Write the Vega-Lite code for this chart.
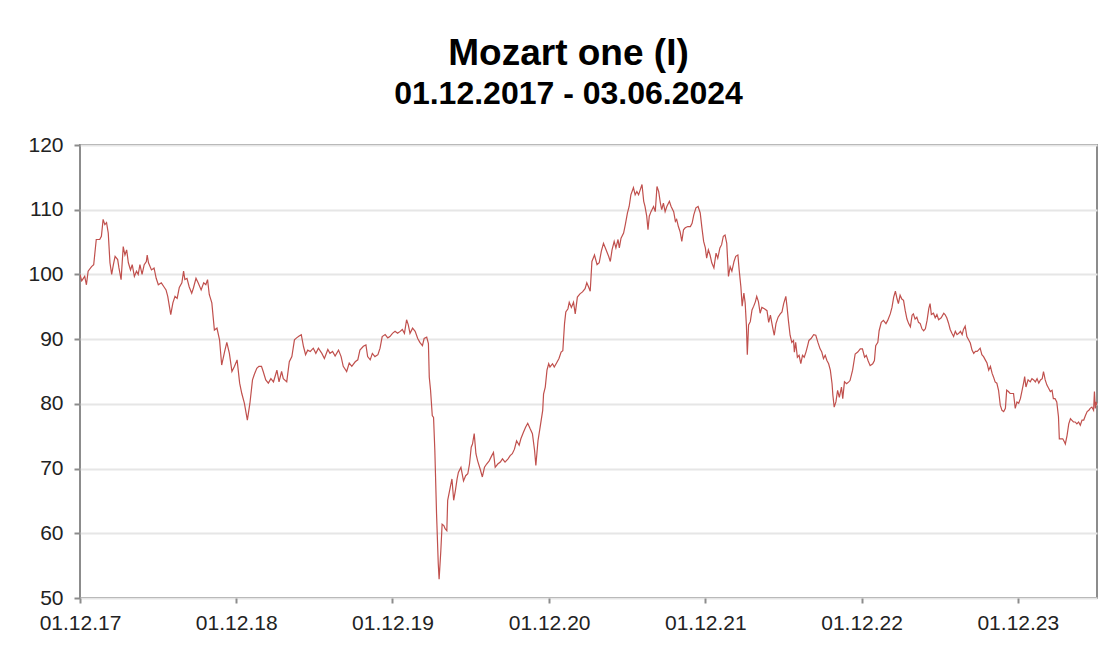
{
  "$schema": "https://vega.github.io/schema/vega-lite/v6.json",
  "width": 1017,
  "height": 453,
  "autosize": {"type": "none"},
  "padding": {"left": 80, "top": 145, "right": 20, "bottom": 48},
  "background": "white",
  "title": {
    "text": "Mozart one (I)",
    "subtitle": "01.12.2017 - 03.06.2024",
    "font": "Liberation Sans",
    "subtitleFont": "Liberation Sans",
    "fontSize": 37,
    "subtitleFontSize": 32,
    "fontWeight": "bold",
    "subtitleFontWeight": "bold",
    "color": "#000000",
    "subtitleColor": "#000000",
    "anchor": "middle",
    "dx": -20,
    "offset": 23,
    "subtitlePadding": 6
  },
  "data": {
    "values": [
      {"d":"2017-12-01","v":100},{"d":"2017-12-05","v":99.0},{"d":"2017-12-12","v":99.7},{"d":"2017-12-16","v":98.4},{"d":"2017-12-20","v":100.5},{"d":"2017-12-28","v":101.2},
      {"d":"2018-01-02","v":101.5},{"d":"2018-01-08","v":105.4},{"d":"2018-01-16","v":105.4},{"d":"2018-01-20","v":105.9},{"d":"2018-01-24","v":108.5},{"d":"2018-01-28","v":107.7},
      {"d":"2018-02-01","v":108},{"d":"2018-02-05","v":106.4},{"d":"2018-02-09","v":101.8},{"d":"2018-02-13","v":100},{"d":"2018-02-17","v":101.5},{"d":"2018-02-21","v":102.8},{"d":"2018-02-27","v":102.3},
      {"d":"2018-03-02","v":101},{"d":"2018-03-07","v":99.2},{"d":"2018-03-12","v":104.3},{"d":"2018-03-16","v":103},{"d":"2018-03-20","v":103.8},{"d":"2018-03-24","v":101.8},{"d":"2018-03-29","v":100.7},
      {"d":"2018-04-02","v":101.5},{"d":"2018-04-07","v":99.7},{"d":"2018-04-12","v":100.5},{"d":"2018-04-16","v":100},{"d":"2018-04-20","v":101.5},{"d":"2018-04-25","v":100},{"d":"2018-04-30","v":101.5},
      {"d":"2018-05-05","v":102},{"d":"2018-05-07","v":103},{"d":"2018-05-10","v":101.8},{"d":"2018-05-17","v":100.7},{"d":"2018-05-23","v":101},{"d":"2018-05-28","v":99.4},
      {"d":"2018-06-02","v":98.4},{"d":"2018-06-09","v":98.7},{"d":"2018-06-15","v":98.1},{"d":"2018-06-20","v":97.6},{"d":"2018-06-24","v":96.6},
      {"d":"2018-07-01","v":93.8},{"d":"2018-07-06","v":95.6},{"d":"2018-07-11","v":96.6},{"d":"2018-07-16","v":96.3},{"d":"2018-07-21","v":98},{"d":"2018-07-27","v":98.7},{"d":"2018-07-31","v":100.5},
      {"d":"2018-08-03","v":99.2},{"d":"2018-08-08","v":99.4},{"d":"2018-08-13","v":98.1},{"d":"2018-08-19","v":97.1},{"d":"2018-08-23","v":97.9},{"d":"2018-08-29","v":99.4},
      {"d":"2018-09-03","v":98.7},{"d":"2018-09-10","v":97.6},{"d":"2018-09-16","v":98.7},{"d":"2018-09-21","v":98.4},{"d":"2018-09-25","v":99.2},{"d":"2018-09-29","v":96.9},
      {"d":"2018-10-05","v":95.6},{"d":"2018-10-11","v":91.4},{"d":"2018-10-17","v":91.7},{"d":"2018-10-23","v":89.9},{"d":"2018-10-28","v":86},
      {"d":"2018-11-04","v":88.1},{"d":"2018-11-09","v":89.5},{"d":"2018-11-15","v":87.8},{"d":"2018-11-21","v":85},{"d":"2018-11-27","v":85.8},
      {"d":"2018-12-03","v":86.8},{"d":"2018-12-09","v":83.2},{"d":"2018-12-14","v":81.6},{"d":"2018-12-20","v":80.1},{"d":"2018-12-27","v":77.5},
      {"d":"2019-01-02","v":80.1},{"d":"2019-01-08","v":83.7},{"d":"2019-01-12","v":84.5},{"d":"2019-01-18","v":85.5},{"d":"2019-01-23","v":85.8},{"d":"2019-01-29","v":85.8},
      {"d":"2019-02-02","v":85},{"d":"2019-02-08","v":83.7},{"d":"2019-02-14","v":83.2},{"d":"2019-02-20","v":83.9},{"d":"2019-02-26","v":83.4},
      {"d":"2019-03-06","v":85.2},{"d":"2019-03-11","v":83.4},{"d":"2019-03-17","v":85},{"d":"2019-03-21","v":83.9},{"d":"2019-03-29","v":83.4},
      {"d":"2019-04-04","v":86.5},{"d":"2019-04-10","v":87.3},{"d":"2019-04-16","v":89.9},{"d":"2019-04-21","v":90.2},{"d":"2019-04-27","v":90.5},
      {"d":"2019-05-02","v":90.7},{"d":"2019-05-07","v":88.9},{"d":"2019-05-12","v":87.6},{"d":"2019-05-17","v":88.3},{"d":"2019-05-23","v":88.1},{"d":"2019-05-30","v":88.6},
      {"d":"2019-06-05","v":87.8},{"d":"2019-06-11","v":88.6},{"d":"2019-06-19","v":87.8},{"d":"2019-06-25","v":87},
      {"d":"2019-07-03","v":88.4},{"d":"2019-07-08","v":87.8},{"d":"2019-07-14","v":88.1},{"d":"2019-07-20","v":87.4},{"d":"2019-07-28","v":88.3},
      {"d":"2019-08-03","v":87.3},{"d":"2019-08-08","v":85.8},{"d":"2019-08-16","v":85},{"d":"2019-08-22","v":86.3},{"d":"2019-08-28","v":85.8},
      {"d":"2019-09-05","v":86.5},{"d":"2019-09-11","v":86.8},{"d":"2019-09-16","v":88.3},{"d":"2019-09-24","v":88.9},{"d":"2019-09-30","v":89.1},
      {"d":"2019-10-04","v":87.3},{"d":"2019-10-10","v":86.8},{"d":"2019-10-15","v":87.8},{"d":"2019-10-21","v":87.3},{"d":"2019-10-28","v":87.6},
      {"d":"2019-11-02","v":88.6},{"d":"2019-11-07","v":90.4},{"d":"2019-11-14","v":90.7},{"d":"2019-11-20","v":90.2},{"d":"2019-11-25","v":90.4},
      {"d":"2019-12-01","v":90.9},{"d":"2019-12-07","v":91.2},{"d":"2019-12-13","v":90.9},{"d":"2019-12-19","v":91.2},{"d":"2019-12-24","v":91.5},{"d":"2019-12-29","v":90.9},
      {"d":"2020-01-03","v":93},{"d":"2020-01-07","v":92.2},{"d":"2020-01-11","v":90.9},{"d":"2020-01-17","v":91.7},{"d":"2020-01-23","v":91.2},{"d":"2020-01-29","v":90.1},
      {"d":"2020-02-03","v":89.5},{"d":"2020-02-09","v":89},{"d":"2020-02-13","v":90.1},{"d":"2020-02-19","v":90.3},{"d":"2020-02-23","v":89.3},{"d":"2020-02-25","v":84.1},{"d":"2020-02-28","v":82.1},
      {"d":"2020-03-03","v":78.2},{"d":"2020-03-06","v":77.9},{"d":"2020-03-09","v":72.8},{"d":"2020-03-13","v":63},{"d":"2020-03-17","v":55.3},{"d":"2020-03-19","v":52.9},{"d":"2020-03-23","v":57.3},{"d":"2020-03-26","v":61.4},{"d":"2020-03-30","v":61.2},
      {"d":"2020-04-02","v":60.7},{"d":"2020-04-06","v":60.4},{"d":"2020-04-08","v":65.1},{"d":"2020-04-14","v":67.1},{"d":"2020-04-18","v":68.4},{"d":"2020-04-22","v":65.1},{"d":"2020-04-26","v":66.6},{"d":"2020-04-30","v":68.4},
      {"d":"2020-05-03","v":69.4},{"d":"2020-05-09","v":70.2},{"d":"2020-05-15","v":68.1},{"d":"2020-05-20","v":68.9},{"d":"2020-05-25","v":69.2},{"d":"2020-05-29","v":70.7},
      {"d":"2020-06-02","v":73.3},{"d":"2020-06-05","v":73.8},{"d":"2020-06-09","v":75.4},{"d":"2020-06-13","v":72.3},{"d":"2020-06-17","v":71.2},{"d":"2020-06-23","v":69.9},{"d":"2020-06-28","v":68.7},
      {"d":"2020-07-03","v":70.2},{"d":"2020-07-08","v":70.7},{"d":"2020-07-14","v":71.2},{"d":"2020-07-20","v":72},{"d":"2020-07-24","v":72.5},{"d":"2020-07-28","v":70.2},
      {"d":"2020-08-03","v":70.7},{"d":"2020-08-09","v":71},{"d":"2020-08-14","v":71.5},{"d":"2020-08-20","v":71},{"d":"2020-08-27","v":71.5},
      {"d":"2020-09-01","v":72},{"d":"2020-09-06","v":72.3},{"d":"2020-09-11","v":73},{"d":"2020-09-16","v":74.3},{"d":"2020-09-22","v":73.6},{"d":"2020-09-26","v":74.6},
      {"d":"2020-10-02","v":75.6},{"d":"2020-10-07","v":76.4},{"d":"2020-10-12","v":77},{"d":"2020-10-18","v":76.1},{"d":"2020-10-23","v":75.4},{"d":"2020-10-28","v":72.8},{"d":"2020-10-31","v":70.5},
      {"d":"2020-11-05","v":74.3},{"d":"2020-11-10","v":76.4},{"d":"2020-11-16","v":79},{"d":"2020-11-18","v":81.5},{"d":"2020-11-22","v":82.6},{"d":"2020-11-26","v":85.2},{"d":"2020-11-30","v":86.2},
      {"d":"2020-12-03","v":85.7},{"d":"2020-12-09","v":86.2},{"d":"2020-12-13","v":85.7},{"d":"2020-12-19","v":86.4},{"d":"2020-12-24","v":87},{"d":"2020-12-29","v":88},
      {"d":"2021-01-02","v":88.2},{"d":"2021-01-06","v":92.4},{"d":"2021-01-09","v":94.2},{"d":"2021-01-14","v":94.7},{"d":"2021-01-17","v":95.7},{"d":"2021-01-22","v":94.9},{"d":"2021-01-27","v":95.7},{"d":"2021-01-31","v":93.9},
      {"d":"2021-02-05","v":96.5},{"d":"2021-02-11","v":97},{"d":"2021-02-17","v":97.3},{"d":"2021-02-23","v":97.8},{"d":"2021-02-27","v":98.7},
      {"d":"2021-03-03","v":98.1},{"d":"2021-03-07","v":97.4},{"d":"2021-03-11","v":102},{"d":"2021-03-17","v":103},{"d":"2021-03-23","v":101.5},{"d":"2021-03-28","v":101.8},
      {"d":"2021-04-02","v":103.6},{"d":"2021-04-07","v":104.8},{"d":"2021-04-13","v":103.8},{"d":"2021-04-19","v":102.8},{"d":"2021-04-23","v":102},{"d":"2021-04-27","v":103.8},
      {"d":"2021-05-02","v":105.1},{"d":"2021-05-06","v":104.1},{"d":"2021-05-11","v":105.4},{"d":"2021-05-14","v":104.1},{"d":"2021-05-18","v":105.6},{"d":"2021-05-24","v":106.4},{"d":"2021-05-28","v":107.7},
      {"d":"2021-06-02","v":109.5},{"d":"2021-06-06","v":110.5},{"d":"2021-06-10","v":112.3},{"d":"2021-06-16","v":113.4},{"d":"2021-06-20","v":112.3},{"d":"2021-06-24","v":112.8},{"d":"2021-06-28","v":112.3},
      {"d":"2021-07-02","v":113.1},{"d":"2021-07-06","v":113.9},{"d":"2021-07-10","v":111.3},{"d":"2021-07-13","v":110.5},{"d":"2021-07-17","v":109},{"d":"2021-07-20","v":106.9},{"d":"2021-07-23","v":109},{"d":"2021-07-27","v":109.7},
      {"d":"2021-08-02","v":110.5},{"d":"2021-08-06","v":109.7},{"d":"2021-08-10","v":113.6},{"d":"2021-08-14","v":112.8},{"d":"2021-08-18","v":111},{"d":"2021-08-21","v":110},{"d":"2021-08-25","v":111},{"d":"2021-08-29","v":109.7},
      {"d":"2021-09-02","v":110.5},{"d":"2021-09-08","v":111.3},{"d":"2021-09-12","v":110.5},{"d":"2021-09-18","v":109.7},{"d":"2021-09-22","v":108.2},{"d":"2021-09-25","v":108.5},{"d":"2021-09-29","v":107.4},
      {"d":"2021-10-03","v":106.6},{"d":"2021-10-07","v":105.1},{"d":"2021-10-11","v":106.9},{"d":"2021-10-15","v":107.2},{"d":"2021-10-21","v":107.4},{"d":"2021-10-27","v":107.4},{"d":"2021-10-31","v":107.9},
      {"d":"2021-11-04","v":109.2},{"d":"2021-11-09","v":110.3},{"d":"2021-11-14","v":110.5},{"d":"2021-11-19","v":109.5},{"d":"2021-11-23","v":107.2},{"d":"2021-11-27","v":105.1},
      {"d":"2021-12-01","v":104.1},{"d":"2021-12-04","v":102.5},{"d":"2021-12-08","v":103.8},{"d":"2021-12-12","v":103},{"d":"2021-12-16","v":101.8},{"d":"2021-12-21","v":101},{"d":"2021-12-26","v":103.3},{"d":"2021-12-30","v":102.5},
      {"d":"2022-01-04","v":104.1},{"d":"2022-01-08","v":104.6},{"d":"2022-01-12","v":105.9},{"d":"2022-01-16","v":106.1},{"d":"2022-01-20","v":104.8},{"d":"2022-01-24","v":99.7},{"d":"2022-01-28","v":101.2},
      {"d":"2022-02-01","v":100.5},{"d":"2022-02-06","v":102},{"d":"2022-02-10","v":102.8},{"d":"2022-02-15","v":103},{"d":"2022-02-18","v":100.7},{"d":"2022-02-22","v":98.1},{"d":"2022-02-25","v":95.1},
      {"d":"2022-03-01","v":97.1},{"d":"2022-03-04","v":95.6},{"d":"2022-03-07","v":92},{"d":"2022-03-09","v":87.6},{"d":"2022-03-12","v":92.2},{"d":"2022-03-16","v":92.7},{"d":"2022-03-20","v":94.5},{"d":"2022-03-24","v":95.1},{"d":"2022-03-28","v":95.8},{"d":"2022-03-31","v":96.6},
      {"d":"2022-04-04","v":95.8},{"d":"2022-04-08","v":94},{"d":"2022-04-12","v":94.9},{"d":"2022-04-18","v":94.7},{"d":"2022-04-24","v":94.4},{"d":"2022-04-28","v":92.6},
      {"d":"2022-05-02","v":93.7},{"d":"2022-05-07","v":91.9},{"d":"2022-05-11","v":90.6},{"d":"2022-05-15","v":92.4},{"d":"2022-05-20","v":93.4},{"d":"2022-05-25","v":93.9},{"d":"2022-05-29","v":94.2},
      {"d":"2022-06-02","v":95.5},{"d":"2022-06-07","v":96.6},{"d":"2022-06-10","v":94.9},{"d":"2022-06-13","v":92.9},{"d":"2022-06-17","v":90.6},{"d":"2022-06-21","v":89.5},{"d":"2022-06-25","v":89.8},{"d":"2022-06-27","v":88},{"d":"2022-06-30","v":89.5},
      {"d":"2022-07-04","v":87.2},{"d":"2022-07-08","v":87.5},{"d":"2022-07-12","v":86.2},{"d":"2022-07-16","v":87.5},{"d":"2022-07-20","v":87.2},{"d":"2022-07-24","v":88},{"d":"2022-07-28","v":89},{"d":"2022-07-31","v":89.8},
      {"d":"2022-08-05","v":90.1},{"d":"2022-08-11","v":90.7},{"d":"2022-08-16","v":90.6},{"d":"2022-08-21","v":89.5},{"d":"2022-08-26","v":88.5},{"d":"2022-08-30","v":88},
      {"d":"2022-09-03","v":87},{"d":"2022-09-07","v":87.5},{"d":"2022-09-11","v":86.7},{"d":"2022-09-15","v":86.2},{"d":"2022-09-19","v":85.2},{"d":"2022-09-23","v":83.1},{"d":"2022-09-25","v":81.3},{"d":"2022-09-28","v":79.5},
      {"d":"2022-10-02","v":80.3},{"d":"2022-10-06","v":82.1},{"d":"2022-10-10","v":81},{"d":"2022-10-15","v":82.6},{"d":"2022-10-18","v":80.8},{"d":"2022-10-22","v":83.4},{"d":"2022-10-27","v":83.1},
      {"d":"2022-11-01","v":83.4},{"d":"2022-11-04","v":83.6},{"d":"2022-11-10","v":85.2},{"d":"2022-11-16","v":87.7},{"d":"2022-11-22","v":88},{"d":"2022-11-28","v":88.5},
      {"d":"2022-12-03","v":88.5},{"d":"2022-12-08","v":87.2},{"d":"2022-12-12","v":87.5},{"d":"2022-12-16","v":86.7},{"d":"2022-12-21","v":85.9},{"d":"2022-12-27","v":86.2},{"d":"2022-12-31","v":86.7},
      {"d":"2023-01-03","v":89},{"d":"2023-01-08","v":89.5},{"d":"2023-01-11","v":91.3},{"d":"2023-01-16","v":92.6},{"d":"2023-01-21","v":92.9},{"d":"2023-01-27","v":92.4},{"d":"2023-01-31","v":92.9},
      {"d":"2023-02-06","v":93.9},{"d":"2023-02-10","v":94.9},{"d":"2023-02-14","v":96.5},{"d":"2023-02-18","v":97.4},{"d":"2023-02-22","v":96.2},{"d":"2023-02-25","v":95.5},
      {"d":"2023-03-01","v":96.8},{"d":"2023-03-05","v":96.2},{"d":"2023-03-09","v":96},{"d":"2023-03-13","v":94.4},{"d":"2023-03-17","v":93.1},{"d":"2023-03-21","v":92.4},{"d":"2023-03-25","v":91.9},{"d":"2023-03-29","v":93.7},
      {"d":"2023-04-01","v":93.9},{"d":"2023-04-05","v":93.1},{"d":"2023-04-09","v":93.4},{"d":"2023-04-13","v":92.6},{"d":"2023-04-17","v":92.4},{"d":"2023-04-21","v":91.6},{"d":"2023-04-25","v":91.3},{"d":"2023-04-29","v":91.6},
      {"d":"2023-05-03","v":92.9},{"d":"2023-05-07","v":94.7},{"d":"2023-05-10","v":95.5},{"d":"2023-05-13","v":93.8},{"d":"2023-05-18","v":94},{"d":"2023-05-22","v":93.3},{"d":"2023-05-26","v":93.8},{"d":"2023-05-30","v":93},
      {"d":"2023-06-05","v":93.3},{"d":"2023-06-11","v":94},{"d":"2023-06-14","v":93.8},{"d":"2023-06-18","v":93.3},{"d":"2023-06-22","v":92.5},{"d":"2023-06-26","v":91.5},{"d":"2023-06-30","v":90.9},
      {"d":"2023-07-04","v":90.4},{"d":"2023-07-08","v":91.2},{"d":"2023-07-12","v":90.7},{"d":"2023-07-16","v":90.9},{"d":"2023-07-20","v":91.2},{"d":"2023-07-24","v":90.7},{"d":"2023-07-27","v":91.5},{"d":"2023-07-31","v":92},
      {"d":"2023-08-04","v":90.4},{"d":"2023-08-08","v":89.9},{"d":"2023-08-12","v":89.4},{"d":"2023-08-16","v":88.3},{"d":"2023-08-20","v":87.8},{"d":"2023-08-24","v":88.1},{"d":"2023-08-28","v":88.1},{"d":"2023-08-31","v":88.3},
      {"d":"2023-09-04","v":88.6},{"d":"2023-09-08","v":87.6},{"d":"2023-09-12","v":87.3},{"d":"2023-09-16","v":86.8},{"d":"2023-09-20","v":86.3},{"d":"2023-09-24","v":85.2},{"d":"2023-09-28","v":85.8},
      {"d":"2023-10-02","v":84.7},{"d":"2023-10-05","v":84.2},{"d":"2023-10-09","v":83.4},{"d":"2023-10-13","v":83.2},{"d":"2023-10-17","v":82.1},{"d":"2023-10-21","v":79.8},{"d":"2023-10-25","v":79},{"d":"2023-10-29","v":78.8},
      {"d":"2023-11-02","v":79.3},{"d":"2023-11-05","v":82.1},{"d":"2023-11-09","v":81.9},{"d":"2023-11-13","v":81.6},{"d":"2023-11-17","v":81.6},{"d":"2023-11-21","v":81.6},{"d":"2023-11-25","v":79.3},{"d":"2023-11-29","v":80.3},
      {"d":"2023-12-03","v":80.1},{"d":"2023-12-07","v":80.8},{"d":"2023-12-11","v":82.1},{"d":"2023-12-15","v":83.4},{"d":"2023-12-17","v":84.2},{"d":"2023-12-20","v":82.6},{"d":"2023-12-25","v":83.7},{"d":"2023-12-30","v":83.4},
      {"d":"2024-01-03","v":83.9},{"d":"2024-01-07","v":83.7},{"d":"2024-01-11","v":83.4},{"d":"2024-01-15","v":83.9},{"d":"2024-01-19","v":83.2},{"d":"2024-01-23","v":83.7},{"d":"2024-01-27","v":83.9},{"d":"2024-01-30","v":85},
      {"d":"2024-02-03","v":83.7},{"d":"2024-02-07","v":82.9},{"d":"2024-02-11","v":82.4},{"d":"2024-02-15","v":81.9},{"d":"2024-02-19","v":82.1},{"d":"2024-02-22","v":80.8},{"d":"2024-02-26","v":80.8},
      {"d":"2024-03-01","v":80.3},{"d":"2024-03-05","v":78},{"d":"2024-03-07","v":74.6},{"d":"2024-03-11","v":74.6},{"d":"2024-03-15","v":74.6},{"d":"2024-03-19","v":74.1},{"d":"2024-03-21","v":73.8},{"d":"2024-03-25","v":75.1},{"d":"2024-03-29","v":76.9},
      {"d":"2024-04-02","v":77.7},{"d":"2024-04-05","v":77.5},{"d":"2024-04-09","v":77.2},{"d":"2024-04-13","v":77.2},{"d":"2024-04-17","v":76.9},{"d":"2024-04-21","v":77.2},{"d":"2024-04-25","v":76.7},{"d":"2024-04-29","v":77.5},
      {"d":"2024-05-03","v":77.5},{"d":"2024-05-07","v":78.2},{"d":"2024-05-11","v":78.8},{"d":"2024-05-15","v":79},{"d":"2024-05-18","v":79.3},{"d":"2024-05-22","v":79.5},{"d":"2024-05-26","v":79},{"d":"2024-05-28","v":81.9},{"d":"2024-05-30","v":79.3},
      {"d":"2024-06-01","v":80.3},{"d":"2024-06-03","v":79.8}
    ]
  },
  "mark": {"type": "line", "color": "#c0504d", "strokeWidth": 1.2, "clip": true},
  "encoding": {
    "x": {
      "field": "d",
      "type": "temporal",
      "scale": {
        "type": "utc",
        "domain": [
          {"year": 2017, "month": 12, "date": 1, "utc": true},
          {"year": 2024, "month": 6, "date": 3, "utc": true}
        ]
      },
      "axis": {
        "title": null,
        "values": [
          {"year": 2017, "month": 12, "date": 1, "utc": true},
          {"year": 2018, "month": 12, "date": 1, "utc": true},
          {"year": 2019, "month": 12, "date": 1, "utc": true},
          {"year": 2020, "month": 12, "date": 1, "utc": true},
          {"year": 2021, "month": 12, "date": 1, "utc": true},
          {"year": 2022, "month": 12, "date": 1, "utc": true},
          {"year": 2023, "month": 12, "date": 1, "utc": true}
        ],
        "format": "%d.%m.%y",
        "grid": false,
        "domain": false,
        "ticks": true,
        "tickSize": 5,
        "tickWidth": 2,
        "tickColor": "#8c8c8c",
        "labelFlush": false,
        "labelOverlap": false,
        "labelPadding": 9,
        "labelFont": "Liberation Sans",
        "labelFontSize": 21,
        "labelColor": "#222222"
      }
    },
    "y": {
      "field": "v",
      "type": "quantitative",
      "scale": {"domain": [50, 120], "nice": false, "zero": false},
      "axis": {
        "title": null,
        "values": [50, 60, 70, 80, 90, 100, 110, 120],
        "grid": true,
        "gridColor": "#e6e6e6",
        "gridWidth": 2,
        "domain": false,
        "tickSize": 6,
        "tickWidth": 2,
        "tickColor": "#8c8c8c",
        "labelPadding": 11,
        "labelFont": "Liberation Sans",
        "labelFontSize": 21,
        "labelColor": "#222222"
      }
    }
  },
  "config": {
    "view": {"stroke": "#8c8c8c", "strokeWidth": 2}
  }
}
